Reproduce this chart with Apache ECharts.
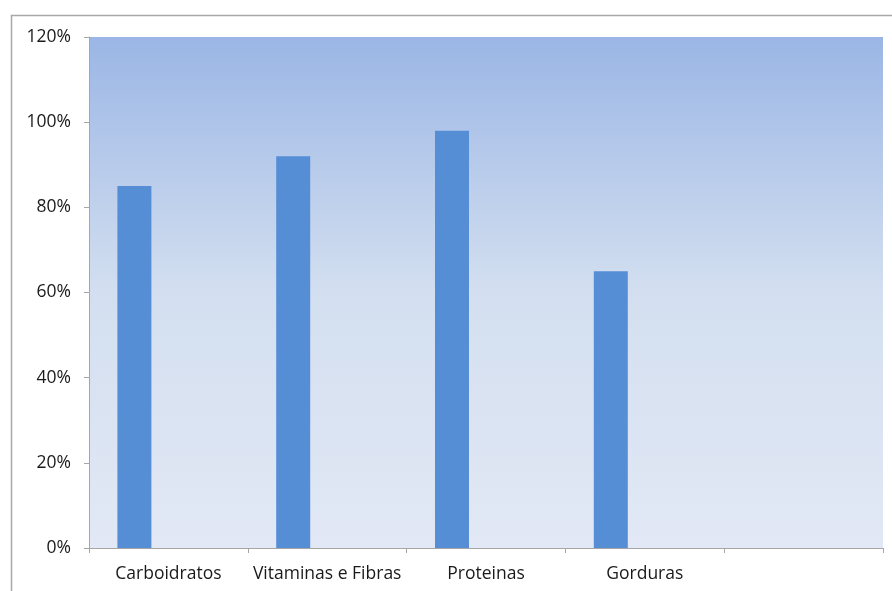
<!DOCTYPE html>
<html>
<head>
<meta charset="utf-8">
<style>html,body{margin:0;padding:0;background:#fff;}#c{width:892px;height:591px;}</style>
<script src="https://cdn.jsdelivr.net/npm/echarts@6/dist/echarts.min.js"></script>
</head>
<body>
<div id="c"></div>
<script>
const categories = ['Carboidratos', 'Vitaminas e Fibras', 'Proteinas', 'Gorduras', ''];
const values = [0.85, 0.92, 0.98, 0.65, null];
const emptySeries = [null, null, null, null, null];

const chart = echarts.init(document.getElementById('c'));
const font = '"Open Sans", "Noto Sans", sans-serif';
chart.setOption({
  animation: false,
  backgroundColor: '#fff',
  graphic: [{
    type: 'rect', silent: true, z: -10,
    shape: { x: 11.5, y: 15.5, width: 900, height: 600 },
    style: { fill: 'none', stroke: '#a8a8a8', lineWidth: 1.5 }
  }],
  grid: {
    left: 89, right: 9, top: 37, bottom: 43,
    show: true, borderWidth: 0,
    backgroundColor: new echarts.graphic.LinearGradient(0, 0, 0, 1, [
      { offset: 0, color: '#9bb6e5' },
      { offset: 0.5, color: '#d3dff0' },
      { offset: 1, color: '#e2e8f5' }
    ])
  },
  xAxis: {
    type: 'category',
    data: categories,
    axisLine: { lineStyle: { color: '#a6a6a6', width: 1 } },
    axisTick: { show: true, length: 5, alignWithLabel: false, lineStyle: { color: '#a6a6a6' } },
    axisLabel: { color: '#1a1a1a', fontSize: 17.5, fontFamily: font, margin: 17, interval: 0 },
    splitLine: { show: false }
  },
  yAxis: {
    type: 'value',
    min: 0, max: 1.2, interval: 0.2,
    axisLine: { show: true, lineStyle: { color: '#a6a6a6', width: 1 } },
    axisTick: { show: true, length: 5, lineStyle: { color: '#a6a6a6' } },
    axisLabel: { color: '#1a1a1a', fontSize: 17.5, fontFamily: font, margin: 18,
      formatter: v => Math.round(v * 100) + '%' },
    splitLine: { show: false }
  },
  series: [
    { type: 'bar', data: values, barWidth: 34, barGap: '0%', itemStyle: { color: '#558ed5' } },
    { type: 'bar', data: emptySeries, barWidth: 34 },
    { type: 'bar', data: emptySeries, barWidth: 34 }
  ]
});
</script>
</body>
</html>
